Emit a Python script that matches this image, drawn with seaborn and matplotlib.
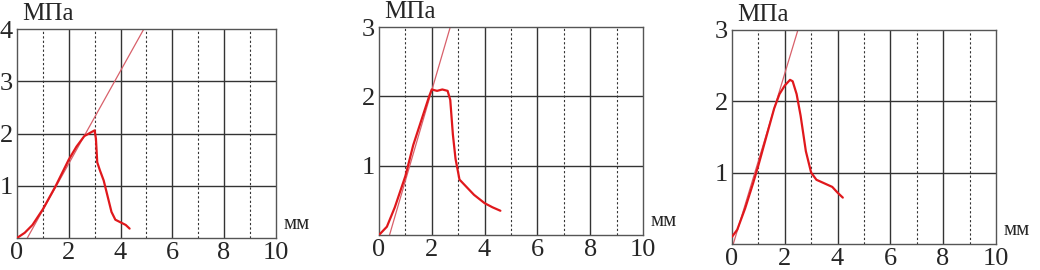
import numpy as np
import pandas as pd
import matplotlib
matplotlib.use("Agg")
import matplotlib.pyplot as plt
import seaborn as sns

sns.set_style("white")
plt.rcParams['font.family'] = ['Liberation Serif', 'DejaVu Serif']

# panel 1
x1 = [0, 0.3, 0.6, 1.0, 1.5, 2.0, 2.3, 2.6, 2.85, 3.0, 3.05, 3.1, 3.2, 3.35, 3.5, 3.65, 3.8, 4.0, 4.2, 4.35]
y1 = [0, 0.1, 0.25, 0.55, 1.0, 1.5, 1.75, 1.95, 2.02, 2.06, 1.9, 1.45, 1.3, 1.1, 0.8, 0.5, 0.35, 0.3, 0.25, 0.18]
lx1 = [0.4, 4.9]
ly1 = [0, 4]
# panel 2
x2 = [0, 0.3, 0.6, 1.0, 1.3, 1.6, 1.9, 2.0, 2.2, 2.4, 2.6, 2.7, 2.8, 2.9, 3.05, 3.3, 3.6, 4.0, 4.3, 4.6]
y2 = [0, 0.12, 0.4, 0.85, 1.3, 1.65, 2.0, 2.1, 2.08, 2.1, 2.08, 1.95, 1.45, 1.1, 0.8, 0.7, 0.58, 0.46, 0.4, 0.35]
lx2 = [0.4, 2.7]
ly2 = [0, 3]
# panel 3
x3 = [0, 0.2, 0.5, 0.8, 1.0, 1.3, 1.6, 1.8, 2.0, 2.2, 2.3, 2.45, 2.6, 2.8, 3.0, 3.2, 3.5, 3.8, 4.0, 4.2]
y3 = [0.1, 0.2, 0.5, 0.85, 1.1, 1.5, 1.9, 2.1, 2.22, 2.3, 2.28, 2.1, 1.8, 1.3, 1.0, 0.9, 0.85, 0.8, 0.72, 0.65]
lx3 = [0.05, 2.5]
ly3 = [0, 3]

panels = [
    (x1, y1, lx1, ly1, 4, [0.0163, 0.1185, 0.249, 0.774]),
    (x2, y2, lx2, ly2, 3, [0.3644, 0.1296, 0.2538, 0.770]),
    (x3, y3, lx3, ly3, 3, [0.7038, 0.0963, 0.2538, 0.793]),
]

fig = plt.figure(figsize=(10.4, 2.7), dpi=100)
for xs, ys, lxs, lys, ymax, pos in panels:
    ax = fig.add_axes(pos)
    for xv in range(1, 10):
        if xv % 2 == 0:
            ax.axvline(xv, color="#333333", lw=1.0, zorder=1)
        else:
            ax.axvline(xv, color="#333333", lw=0.8, ls=(0, (2, 2)), zorder=1)
    for yv in range(1, ymax):
        ax.axhline(yv, color="#333333", lw=1.0, zorder=1)
    df = pd.DataFrame({"x": xs, "y": ys})
    sns.lineplot(data=df, x="x", y="y", sort=False, color="#e0181c", lw=1.6, ax=ax, zorder=3)
    ax.plot(lxs, lys, color="#d8606a", lw=0.9, zorder=2)
    ax.set_xlim(0, 10)
    ax.set_ylim(0, ymax)
    ax.set_xticks([0, 2, 4, 6, 8, 10])
    ax.set_yticks(list(range(1, ymax + 1)))
    ax.tick_params(length=0, labelsize=19, pad=3)
    ax.set_xlabel("")
    ax.set_ylabel("")
    for s in ax.spines.values():
        s.set_color("#555555")
        s.set_linewidth(1.0)
    ax.text(0.02, 1.02, "МПа", transform=ax.transAxes, fontsize=18, ha="left", va="bottom")
    ax.text(1.03, 0.02, "мм", transform=ax.transAxes, fontsize=15, ha="left", va="bottom")

fig.savefig("out.png", dpi=100)
